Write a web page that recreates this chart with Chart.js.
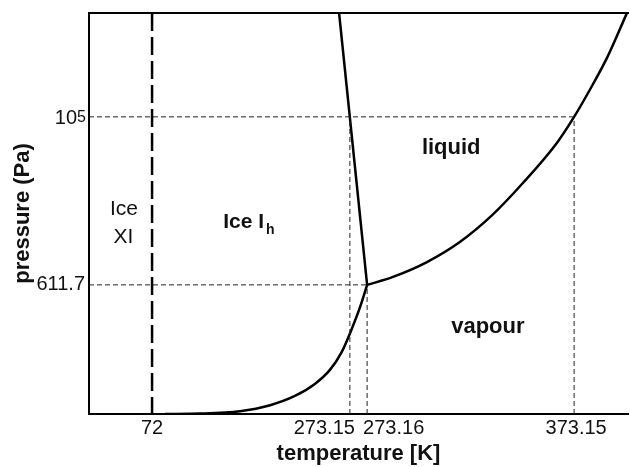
<!DOCTYPE html>
<html>
<head>
<meta charset="utf-8">
<script src="https://cdn.jsdelivr.net/npm/chart.js@4.4.1/dist/chart.umd.min.js"></script>
<style>
  body { margin: 0; background: #fff; }
  #wrap { width: 630px; height: 467px; }
</style>
</head>
<body>
<div id="wrap"><canvas id="grafico"></canvas></div>
<script>
// eixos esquemáticos (0-100), os rótulos mostram os valores reais
const tickT = [11.7, 48.4, 51.6, 90.0];
const tickTLabels = ['72', '273.15', '273.16', '373.15'];
const tickP = [32.2, 74.1];
const tickPLabels = ['611.7', '10^5'];

// curva de sublimação (gelo -> vapor)
const sublT = [14.1, 20.6, 28.0, 33.6, 38.2, 41.9, 44.7, 46.9, 48.8, 50.3, 51.6];
const sublP = [0, 0.1, 0.7, 2.2, 4.5, 7.5, 11.0, 15.5, 21.4, 26.7, 32.2];

// curva de fusão
const fusT = [46.4, 51.6];
const fusP = [100, 32.2];

// curva de ebulição
const ebT = [51.6, 56.4, 62.7, 68.8, 74.8, 80.5, 86.8, 90.0, 92.9, 96.1, 99.8];
const ebP = [32.2, 34.2, 37.9, 42.9, 49.6, 57.6, 67.6, 74.1, 80.8, 88.8, 100];

// fronteira Ice XI (72 K)
const xiT = [11.7, 11.7];
const xiP = [100, 0];

const pts = (xs, ys) => xs.map((x, i) => ({ x: x, y: ys[i] }));

const FONTE = "'Liberation Sans', Arial, sans-serif";

// linhas guia tracejadas finas
const guiaBase = { borderColor: '#222', borderWidth: 1, borderDash: [5, 3], pointRadius: 0, tension: 0 };
const guias = [
    { data: [{ x: tickT[1], y: 0 }, { x: tickT[1], y: tickP[1] }] },
    { data: [{ x: tickT[2], y: 0 }, { x: tickT[2], y: tickP[0] }] },
    { data: [{ x: tickT[3], y: 0 }, { x: tickT[3], y: tickP[1] }] },
    { data: [{ x: 0, y: tickP[0] }, { x: tickT[2], y: tickP[0] }] },
    { data: [{ x: 0, y: tickP[1] }, { x: tickT[3], y: tickP[1] }] }
].map(g => Object.assign({}, guiaBase, g));

const curva = { borderColor: '#000', borderWidth: 2.5, pointRadius: 0, fill: false };

// rótulos das regiões e dos ticks, desenhados à mão
const rotulos = {
    id: 'rotulos',
    afterDatasetsDraw(chart) {
        const ctx = chart.ctx;
        const sx = chart.scales.x, sy = chart.scales.y;
        ctx.save();
        ctx.fillStyle = '#111';

        // ticks do eixo x
        const alinh = ['center', 'right', 'left', 'center'];
        const desloc = [0, 5, -4, 2];
        ctx.font = '20px ' + FONTE;
        ctx.textBaseline = 'middle';
        tickT.forEach((t, i) => {
            ctx.textAlign = alinh[i];
            ctx.fillText(tickTLabels[i], sx.getPixelForValue(t) + desloc[i], 428);
        });

        // ticks do eixo y (com expoente)
        tickP.forEach((p, i) => {
            const y = sy.getPixelForValue(p);
            const txt = tickPLabels[i];
            if (txt.includes('^')) {
                const [base, exp] = txt.split('^');
                ctx.font = '16px ' + FONTE;
                ctx.textAlign = 'right';
                ctx.textBaseline = 'top';
                ctx.fillText(exp, 86, y - 7);
                const w = ctx.measureText(exp).width;
                ctx.font = '20px ' + FONTE;
                ctx.textBaseline = 'middle';
                ctx.fillText(base, 86 - w, y + 2);
            } else {
                ctx.font = '20px ' + FONTE;
                ctx.textAlign = 'right';
                ctx.textBaseline = 'middle';
                ctx.fillText(txt, 85, y);
            }
        });

        // regiões
        ctx.textAlign = 'center';
        ctx.textBaseline = 'middle';
        ctx.font = '21px ' + FONTE;
        ctx.fillText('Ice', sx.getPixelForValue(6.5), sy.getPixelForValue(51.1));
        ctx.fillText('XI', sx.getPixelForValue(6.4), sy.getPixelForValue(44.1));

        ctx.font = 'bold 22px ' + FONTE;
        ctx.fillText('liquid', sx.getPixelForValue(67.2), sy.getPixelForValue(66.3));
        ctx.fillText('vapour', sx.getPixelForValue(74.0), sy.getPixelForValue(21.7));

        ctx.textAlign = 'left';
        ctx.font = 'bold 21px ' + FONTE;
        const ix = sx.getPixelForValue(24.9), iy = sy.getPixelForValue(47.9);
        ctx.fillText('Ice I', ix, iy);
        const wI = ctx.measureText('Ice I').width;
        ctx.font = 'bold 14px ' + FONTE;
        ctx.fillText('h', ix + wI + 2, iy + 8);
        ctx.restore();
    }
};

new Chart(document.getElementById('grafico'), {
    type: 'line',
    data: {
        datasets: [
            Object.assign({ data: pts(xiT, xiP), borderColor: '#000', borderWidth: 2.5, borderDash: [18, 6], pointRadius: 0 }),
            ...guias,
            Object.assign({ data: pts(sublT, sublP), cubicInterpolationMode: 'monotone' }, curva),
            Object.assign({ data: pts(fusT, fusP), tension: 0 }, curva),
            Object.assign({ data: pts(ebT, ebP), cubicInterpolationMode: 'monotone' }, curva)
        ]
    },
    options: {
        responsive: true,
        maintainAspectRatio: false,
        animation: false,
        layout: { padding: { top: 13, right: 2, left: 0, bottom: 0 } },
        scales: {
            x: {
                type: 'linear',
                min: 0,
                max: 100,
                ticks: { display: false },
                grid: { display: false, drawTicks: false },
                border: { display: true, color: '#000', width: 2 },
                title: {
                    display: true,
                    text: 'temperature [K]',
                    color: '#111',
                    font: { family: FONTE, size: 22, weight: 'bold' },
                    padding: { top: 0, bottom: 0 }
                },
                afterFit: s => { s.height = 53; }
            },
            xTopo: {
                type: 'linear',
                position: 'top',
                display: true,
                min: 0,
                max: 100,
                ticks: { display: false },
                grid: { display: false, drawTicks: false },
                border: { display: true, color: '#000', width: 2 },
                afterFit: s => { s.height = 0; }
            },
            y: {
                type: 'linear',
                min: 0,
                max: 100,
                ticks: { display: false },
                grid: { display: false, drawTicks: false },
                border: { display: true, color: '#000', width: 2 },
                title: {
                    display: true,
                    text: 'pressure (Pa)',
                    color: '#111',
                    font: { family: FONTE, size: 22, weight: 'bold' },
                    padding: { top: 10, bottom: 0 }
                },
                afterFit: s => { s.width = 89; }
            }
        },
        plugins: {
            legend: { display: false },
            tooltip: { enabled: false }
        }
    },
    plugins: [rotulos]
});
</script>
</body>
</html>
